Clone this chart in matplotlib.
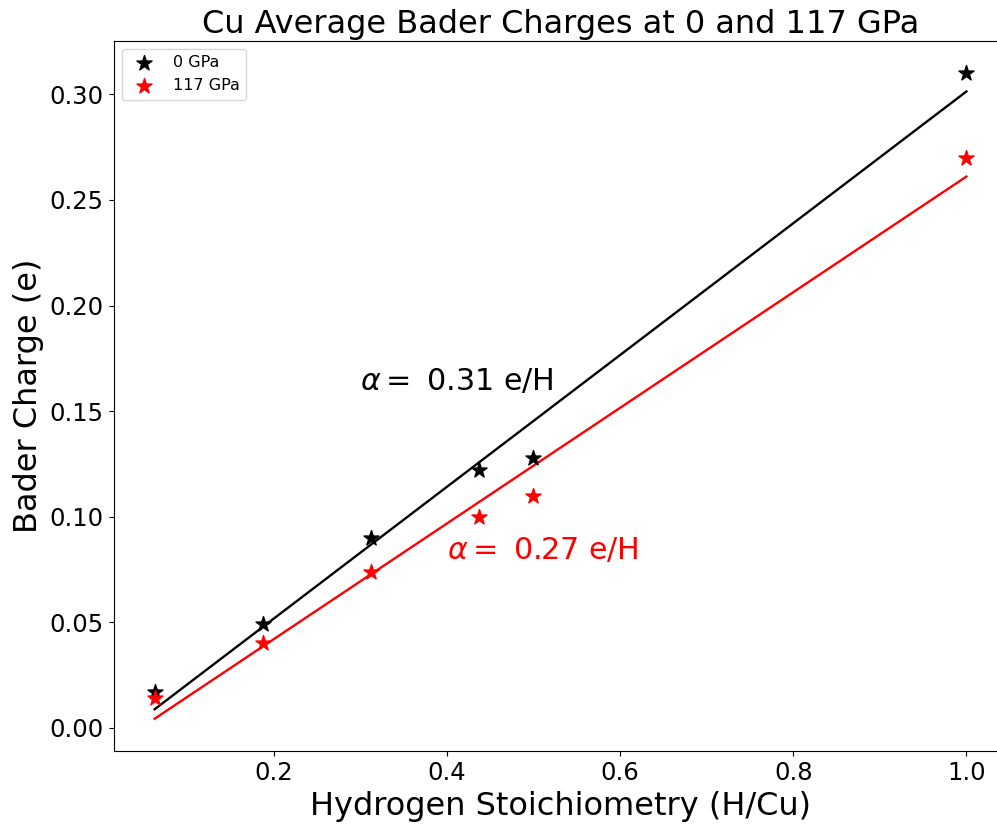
import numpy as np
import matplotlib
matplotlib.use("Agg")
import matplotlib.pyplot as plt

# ---------- data ----------
h_per_cu = [1/16, 3/16, 5/16, 7/16, 0.5, 1.0]
bader_0gpa = [0.017, 0.049, 0.090, 0.122, 0.128, 0.310]
bader_117gpa = [0.014, 0.040, 0.074, 0.100, 0.110, 0.270]

x = np.array(h_per_cu)

# linear fits -> slope alpha
fit_0 = np.polyfit(x, bader_0gpa, 1)
fit_117 = np.polyfit(x, bader_117gpa, 1)

fig = plt.figure(figsize=(9.97, 8.24), dpi=100)
ax = fig.add_axes([114/997, 1 - 751/824, (1007 - 114)/997, (751 - 41)/824])

ax.scatter(x, bader_0gpa, marker="*", s=130, color="black", label="0 GPa", zorder=3)
ax.scatter(x, bader_117gpa, marker="*", s=130, color="red", label="117 GPa", zorder=3)
ax.plot(x, np.polyval(fit_0, x), color="black", lw=1.7)
ax.plot(x, np.polyval(fit_117, x), color="red", lw=1.7)

ax.text(0.3, 0.16, r"$\alpha =$ %.2f e/H" % fit_0[0], fontsize=21.7, color="black")
ax.text(0.4, 0.08, r"$\alpha =$ %.2f e/H" % fit_117[0], fontsize=21.7, color="red")

ax.set_xticks([0.2, 0.4, 0.6, 0.8, 1.0])
ax.set_yticks([0.0, 0.05, 0.10, 0.15, 0.20, 0.25, 0.30])
ax.set_yticklabels(["0.00", "0.05", "0.10", "0.15", "0.20", "0.25", "0.30"])
ax.tick_params(labelsize=17.5, length=3.9)
ax.set_xlabel("Hydrogen Stoichiometry (H/Cu)", fontsize=23)
ax.set_ylabel("Bader Charge (e)", fontsize=23)
ax.set_title("Cu Average Bader Charges at 0 and 117 GPa", fontsize=23)
ax.legend(loc="upper left", fontsize=11.5, scatterpoints=1)

fig.savefig("out.png", dpi=100)
